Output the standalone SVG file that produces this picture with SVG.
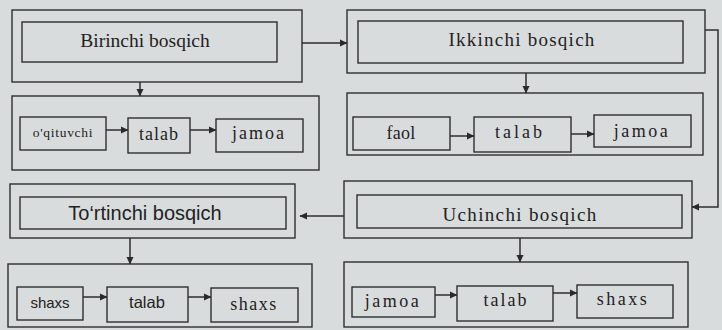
<svg xmlns="http://www.w3.org/2000/svg" width="722" height="330" viewBox="0 0 722 330">
<defs>
<marker id="ah" markerWidth="8" markerHeight="8" refX="7" refY="4" orient="auto" markerUnits="userSpaceOnUse">
<path d="M0,0.5 L7.5,4 L0,7.5 Z" fill="#2a2a2a"/>
</marker>
</defs>
<style>
.bx{fill:none;stroke:#2e2e2e;stroke-width:1.4}
.ln{fill:none;stroke:#2e2e2e;stroke-width:1.5;marker-end:url(#ah)}
.t{font-family:"Liberation Serif","Times New Roman",serif;fill:#222;text-anchor:middle;font-size:18px}
.th{font-family:"Liberation Serif","Times New Roman",serif;fill:#222;text-anchor:middle;font-size:19.5px}
.s{font-family:"Liberation Sans",Arial,sans-serif;fill:#222;text-anchor:middle}
</style>
<rect width="722" height="330" fill="#d9dcdd"/>
<g id="birinchi">
<rect class="bx" x="12" y="10" width="290" height="72"/>
<rect class="bx" x="22" y="22" width="255" height="40"/>
<text class="th" x="145" y="47">Birinchi bosqich</text>
</g>
<g id="birinchi-row">
<rect class="bx" x="12" y="96" width="307" height="74"/>
<rect class="bx" x="20" y="117" width="86" height="33"/>
<text class="t" x="63" y="137" style="font-size:13.5px" letter-spacing="0.7">o'qituvchi</text>
<rect class="bx" x="128" y="118" width="62" height="35"/>
<text class="t" x="159" y="140" letter-spacing="1">talab</text>
<rect class="bx" x="216" y="119" width="87" height="33"/>
<text class="t" x="259" y="139" letter-spacing="2">jamoa</text>
</g>
<g id="ikkinchi">
<rect class="bx" x="347" y="10" width="358" height="63"/>
<rect class="bx" x="358" y="21" width="325" height="42"/>
<text class="th" x="522" y="46" style="font-size:19px" letter-spacing="1.25">Ikkinchi bosqich</text>
</g>
<g id="ikkinchi-row">
<rect class="bx" x="347" y="93" width="356" height="62"/>
<rect class="bx" x="353" y="117" width="97" height="33"/>
<text class="t" x="401" y="139" letter-spacing="0.3">faol</text>
<rect class="bx" x="474" y="117" width="97" height="35"/>
<text class="t" x="520" y="138" letter-spacing="3">talab</text>
<rect class="bx" x="594" y="115" width="97" height="32"/>
<text class="t" x="642" y="137" letter-spacing="2.5">jamoa</text>
</g>
<g id="uchinchi">
<rect class="bx" x="344" y="181" width="348" height="57"/>
<rect class="bx" x="357" y="195" width="325" height="33"/>
<text class="th" x="520" y="221" style="font-size:19px" letter-spacing="1.35">Uchinchi bosqich</text>
</g>
<g id="uchinchi-row">
<rect class="bx" x="344" y="262" width="344" height="65"/>
<rect class="bx" x="352" y="287" width="83" height="30"/>
<text class="t" x="393" y="307" letter-spacing="2.5">jamoa</text>
<rect class="bx" x="457" y="286" width="96" height="35"/>
<text class="t" x="506" y="306" letter-spacing="2">talab</text>
<rect class="bx" x="577" y="285" width="96" height="33"/>
<text class="t" x="623" y="305" letter-spacing="2.5">shaxs</text>
</g>
<g id="tortinchi">
<rect class="bx" x="10" y="184" width="285" height="54"/>
<rect class="bx" x="20" y="197" width="266" height="32"/>
<text class="s" x="145" y="220" font-size="20">To‘rtinchi bosqich</text>
</g>
<g id="tortinchi-row">
<rect class="bx" x="8" y="264" width="304" height="63"/>
<rect class="bx" x="17" y="287" width="66" height="33"/>
<text class="s" x="50" y="308" font-size="15">shaxs</text>
<rect class="bx" x="107" y="287" width="81" height="35"/>
<text class="s" x="147" y="308" font-size="16.5">talab</text>
<rect class="bx" x="211" y="288" width="87" height="34"/>
<text class="t" x="254" y="310" letter-spacing="1.5">shaxs</text>
</g>
<g id="connectors">
<path class="ln" d="M302,43 H347"/>
<path class="ln" d="M140,82 V96"/>
<path class="ln" d="M526,73 V93"/>
<path class="ln" d="M705,30 H718 V207 H692"/>
<path class="ln" d="M344,216 H300"/>
<path class="ln" d="M520,238 V262"/>
<path class="ln" d="M130,238 V264"/>
<path class="ln" d="M106,130 H128"/>
<path class="ln" d="M190,130 H216"/>
<path class="ln" d="M450,136 H474"/>
<path class="ln" d="M571,134 H594"/>
<path class="ln" d="M83,297 H107"/>
<path class="ln" d="M188,297 H211"/>
<path class="ln" d="M435,295 H457"/>
<path class="ln" d="M553,293 H577"/>
</g>
</svg>
